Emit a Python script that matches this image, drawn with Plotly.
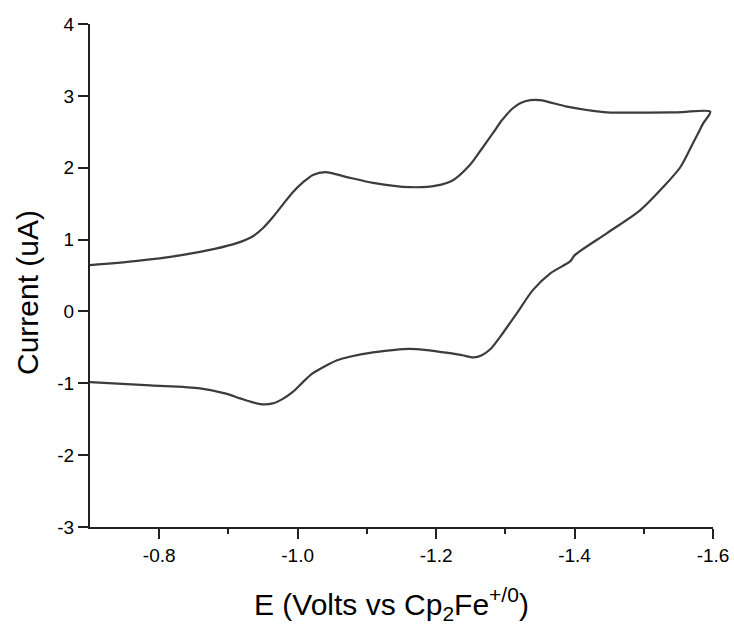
import plotly.graph_objects as go

# Forward scan (top branch), E in V vs Cp2Fe+/0, current in uA
e_fwd = [-0.700, -0.765, -0.830, -0.880, -0.912, -0.936, -0.950, -0.964, -0.978, -0.993,
         -1.008, -1.022, -1.040, -1.071, -1.109, -1.162, -1.200, -1.225, -1.249, -1.265,
         -1.282, -1.295, -1.310, -1.322, -1.336, -1.350, -1.389, -1.420, -1.447, -1.548, -1.596]
i_fwd = [0.645, 0.70, 0.78, 0.87, 0.95, 1.05, 1.16, 1.31, 1.48, 1.66,
         1.80, 1.90, 1.94, 1.87, 1.79, 1.73, 1.75, 1.83, 2.04, 2.25,
         2.48, 2.66, 2.82, 2.90, 2.94, 2.94, 2.85, 2.80, 2.77, 2.77, 2.78]

# Reverse scan (bottom branch)
e_rev = [-1.596, -1.586, -1.578, -1.571, -1.553, -1.528, -1.495, -1.447, -1.400, -1.394,
         -1.365, -1.340, -1.317, -1.292, -1.279, -1.266, -1.254, -1.238, -1.220, -1.162,
         -1.109, -1.075, -1.057, -1.040, -1.022, -1.008, -0.993, -0.978, -0.964, -0.946,
         -0.930, -0.917, -0.895, -0.859, -0.787, -0.700]
i_rev = [2.78, 2.62, 2.47, 2.34, 2.01, 1.73, 1.41, 1.09, 0.78, 0.70,
         0.53, 0.30, -0.02, -0.36, -0.52, -0.61, -0.64, -0.61, -0.58, -0.52,
         -0.57, -0.63, -0.68, -0.76, -0.86, -0.98, -1.12, -1.22, -1.28, -1.29,
         -1.25, -1.21, -1.14, -1.07, -1.03, -0.985]

x_ticks = [-0.8, -1.0, -1.2, -1.4, -1.6]
x_tick_labels = ["-0.8", "-1.0", "-1.2", "-1.4", "-1.6"]
x_minor_ticks = [-0.9, -1.1, -1.3, -1.5]
y_ticks = [-3, -2, -1, 0, 1, 2, 3, 4]
y_tick_labels = ["-3", "-2", "-1", "0", "1", "2", "3", "4"]

x_title = "E (Volts vs Cp<sub>2</sub>Fe<sup>+/0</sup>)"
y_title = "Current (uA)"

fig = go.Figure()
fig.add_trace(go.Scatter(
    x=e_fwd + e_rev[1:], y=i_fwd + i_rev[1:],
    mode="lines",
    line=dict(color="#3c3c3c", width=2.2, shape="spline", smoothing=0.8),
    showlegend=False,
))

font = "Liberation Sans, Arial, sans-serif"
axis_common = dict(
    ticks="outside", ticklen=10, tickwidth=1.6, tickcolor="#222",
    showline=True, linecolor="#222", linewidth=2,
    showgrid=False, zeroline=False, automargin=False,
    tickfont=dict(size=19, family=font, color="black"),
)
fig.update_layout(
    width=734, height=625,
    margin=dict(l=90, r=21, t=24, b=98),
    paper_bgcolor="white", plot_bgcolor="white",
    font=dict(family=font, color="black", size=19),
    xaxis=dict(
        range=[-0.7, -1.6], autorange=False,
        tickvals=x_ticks, ticktext=x_tick_labels,
        minor=dict(tickvals=x_minor_ticks, ticks="outside", ticklen=5,
                   tickwidth=1.6, tickcolor="#222", showgrid=False),
        **axis_common,
    ),
    yaxis=dict(
        range=[-3, 4], autorange=False,
        tickvals=y_ticks, ticktext=y_tick_labels,
        **axis_common,
    ),
    annotations=[
        dict(text=x_title, xref="paper", yref="paper",
             x=(391 - 90) / 623, y=(527 - 604) / 503,
             xanchor="center", yanchor="middle", showarrow=False,
             font=dict(size=30, family=font, color="black")),
        dict(text=y_title, xref="paper", yref="paper",
             x=(27 - 90) / 623, y=(527 - 293) / 503, textangle=-90,
             xanchor="center", yanchor="middle", showarrow=False,
             font=dict(size=30, family=font, color="black")),
    ],
)

fig.write_html("out.html", config={"displayModeBar": False},
               post_script="document.body.style.margin='0';")
